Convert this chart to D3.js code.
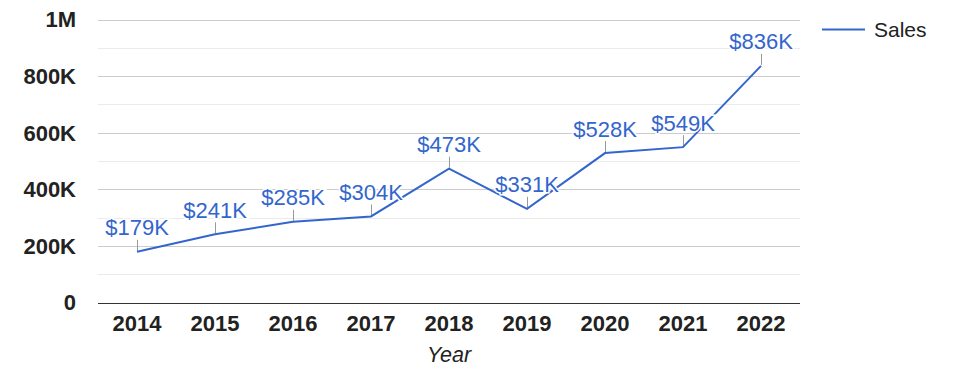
<!DOCTYPE html>
<html>
<head>
<meta charset="utf-8">
<script src="https://cdn.jsdelivr.net/npm/d3@7"></script>
<style>
  body { margin: 0; background: #fff; }
  text { font-family: Arial, "Liberation Sans", sans-serif; }
</style>
</head>
<body>
<svg width="975" height="378"></svg>
<script>
// chart values
var years = ['2014', '2015', '2016', '2017', '2018', '2019', '2020', '2021', '2022'];
var sales = [179000, 241000, 285000, 304000, 473000, 331000, 528000, 549000, 836000];
var yTicks = [0, 200000, 400000, 600000, 800000, 1000000];
var yTickLabels = ['0', '200K', '400K', '600K', '800K', '1M'];
var minorTicks = [100000, 300000, 500000, 700000, 900000];
var seriesName = 'Sales';
var xTitle = 'Year';

var svg = d3.select('svg'),
    w = +svg.attr('width'),
    h = +svg.attr('height');

var plotL = 98, plotR = 800, plotT = 19.5, plotB = 302.5;

var x = d3.scaleBand()
      .domain(years)
      .range([plotL, plotR]),
    y = d3.scaleLinear()
      .domain([0, 1000000])
      .range([plotB, plotT]);

var cx = function(d) { return x(d) + x.bandwidth() / 2; };
var snap = function(v) { return Math.round(v) + 0.5; };

// gridlines
svg.append('g').selectAll('line')
  .data(minorTicks)
  .enter()
  .append('line')
  .attr('x1', plotL).attr('x2', plotR)
  .attr('y1', function(d) { return snap(y(d)); })
  .attr('y2', function(d) { return snap(y(d)); })
  .attr('stroke', '#ebebeb');

svg.append('g').selectAll('line')
  .data(yTicks.slice(1))
  .enter()
  .append('line')
  .attr('x1', plotL).attr('x2', plotR)
  .attr('y1', function(d) { return snap(y(d)); })
  .attr('y2', function(d) { return snap(y(d)); })
  .attr('stroke', '#cccccc');

// baseline
svg.append('line')
  .attr('x1', plotL).attr('x2', plotR)
  .attr('y1', snap(y(0)))
  .attr('y2', snap(y(0)))
  .attr('stroke', '#333');

// y labels
svg.append('g').selectAll('text')
  .data(yTicks)
  .enter()
  .append('text')
  .attr('x', 76)
  .attr('y', function(d) { return y(d); })
  .attr('dy', '0.36em')
  .attr('text-anchor', 'end')
  .attr('font-size', 22)
  .attr('font-weight', 'bold')
  .attr('fill', '#222')
  .text(function(d, i) { return yTickLabels[i]; });

// x labels
svg.append('g').selectAll('text')
  .data(years)
  .enter()
  .append('text')
  .attr('x', cx)
  .attr('y', 331)
  .attr('text-anchor', 'middle')
  .attr('font-size', 22)
  .attr('font-weight', 'bold')
  .attr('fill', '#222')
  .text(function(d) { return d; });

svg.append('text')
  .attr('x', (plotL + plotR) / 2)
  .attr('y', 362)
  .attr('text-anchor', 'middle')
  .attr('font-size', 21.5)
  .attr('font-style', 'italic')
  .attr('fill', '#222')
  .text(xTitle);

// annotation stems
svg.append('g').selectAll('line')
  .data(years)
  .enter()
  .append('line')
  .attr('x1', function(d) { return snap(cx(d)); })
  .attr('x2', function(d) { return snap(cx(d)); })
  .attr('y1', function(d, i) { return y(sales[i]) - 1; })
  .attr('y2', function(d, i) { return y(sales[i]) - 12; })
  .attr('stroke', '#999');

// line
var line = d3.line()
  .x(function(d, i) { return cx(years[i]); })
  .y(function(d) { return y(d); });

svg.append('path')
  .datum(sales)
  .attr('d', line)
  .attr('fill', 'none')
  .attr('stroke', '#3366cc')
  .attr('stroke-width', 2);

// data labels with white halo
svg.append('g').selectAll('text')
  .data(sales)
  .enter()
  .append('text')
  .attr('x', function(d, i) { return cx(years[i]); })
  .attr('y', function(d) { return y(d) - 16.5; })
  .attr('text-anchor', 'middle')
  .attr('font-size', 22)
  .attr('fill', '#3366cc')
  .attr('stroke', '#fff')
  .attr('stroke-width', 3)
  .attr('paint-order', 'stroke')
  .text(function(d) { return '$' + Math.round(d / 1000) + 'K'; });

// legend
svg.append('line')
  .attr('x1', 822).attr('x2', 865)
  .attr('y1', 29.5).attr('y2', 29.5)
  .attr('stroke', '#3366cc')
  .attr('stroke-width', 2);

svg.append('text')
  .attr('x', 874)
  .attr('y', 36.5)
  .attr('font-size', 21)
  .attr('fill', '#222')
  .text(seriesName);
</script>
</body>
</html>
